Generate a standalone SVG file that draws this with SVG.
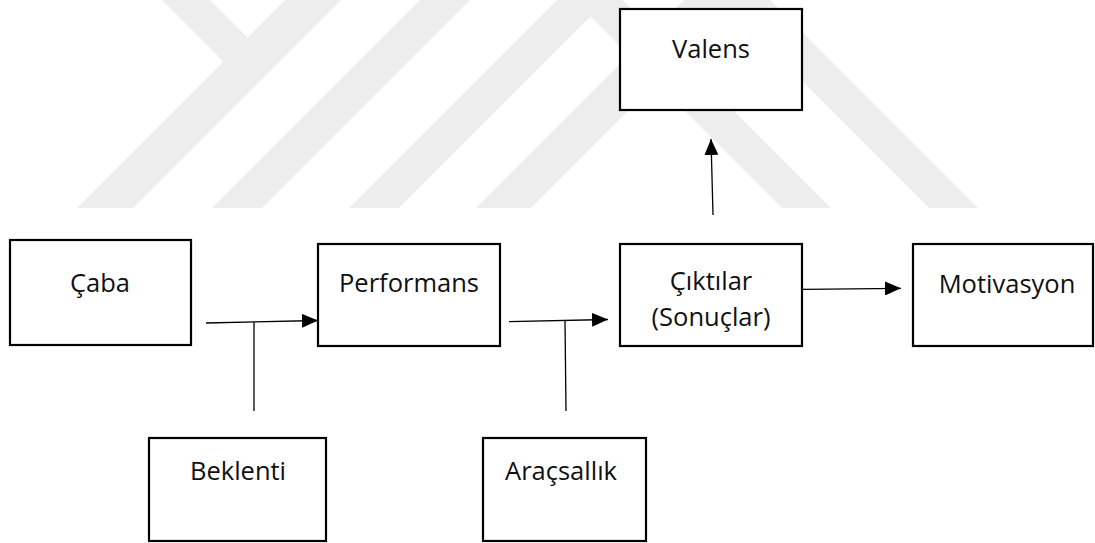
<svg xmlns="http://www.w3.org/2000/svg" width="1095" height="543" viewBox="0 0 1095 543">
  <style>
    .box { fill: #ffffff; stroke: #000000; stroke-width: 2.2; }
    .lbl { font-family: "Open Sans", "Noto Sans", "DejaVu Sans", sans-serif; font-size: 25.5px; fill: #111111; text-anchor: middle; }
    .wire { fill: none; stroke: #000000; stroke-width: 1.3; }
    .mark { fill: #ededed; stroke: none; }
  </style>
  <defs>
    <marker id="tri" viewBox="0 0 16 14" refX="16" refY="7" markerWidth="16" markerHeight="14" markerUnits="userSpaceOnUse" orient="auto">
      <path d="M0,0 L16,7 L0,14 Z" fill="#000000"/>
    </marker>
  </defs>

  <rect width="1095" height="543" fill="#ffffff"/>

  <!-- background emblem bands -->
  <g id="emblem">
    <polygon class="mark" points="285,0 341,0 133,208 77,208"/>
    <polygon class="mark" points="162,0 210,0 247.5,37.5 223.5,61.5"/>
    <polygon class="mark" points="420,0 470,0 262,208 212,208"/>
    <polygon class="mark" points="557,0 607,0 399,208 349,208"/>
    <polygon class="mark" points="684,0 739,0 531,208 476,208"/>
    <polygon class="mark" points="574,0 623,0 831,208 782,208"/>
    <polygon class="mark" points="721,0 770,0 978,208 929,208"/>
  </g>

  <!-- connectors -->
  <g id="connectors">
    <path class="wire" d="M206,323 L318,320.5" marker-end="url(#tri)"/>
    <path class="wire" d="M254,322 L254,411"/>
    <path class="wire" d="M509,321.7 L608,319.5" marker-end="url(#tri)"/>
    <path class="wire" d="M565,321 L566,411"/>
    <path class="wire" d="M803,289.3 L901,288.3" marker-end="url(#tri)"/>
    <path class="wire" d="M713,215 L711,139" marker-end="url(#tri)"/>
  </g>

  <g id="caba">
    <rect class="box" x="10" y="240" width="181" height="105"/>
    <text class="lbl" x="100" y="292">Çaba</text>
  </g>
  <g id="performans">
    <rect class="box" x="318" y="244" width="182" height="102"/>
    <text class="lbl" x="409" y="292">Performans</text>
  </g>
  <g id="ciktilar">
    <rect class="box" x="620" y="244" width="182" height="102"/>
    <text class="lbl" x="711" y="290">Çıktılar</text>
    <text class="lbl" x="711" y="326">(Sonuçlar)</text>
  </g>
  <g id="motivasyon">
    <rect class="box" x="913" y="244" width="180" height="102"/>
    <text class="lbl" x="1007" y="293">Motivasyon</text>
  </g>
  <g id="valens">
    <rect class="box" x="620" y="9" width="182" height="101"/>
    <text class="lbl" x="711" y="58">Valens</text>
  </g>
  <g id="beklenti">
    <rect class="box" x="149" y="438" width="177" height="103"/>
    <text class="lbl" x="238" y="480">Beklenti</text>
  </g>
  <g id="aracsallik">
    <rect class="box" x="483" y="438" width="163" height="103"/>
    <text class="lbl" x="561" y="480">Araçsallık</text>
  </g>
</svg>
